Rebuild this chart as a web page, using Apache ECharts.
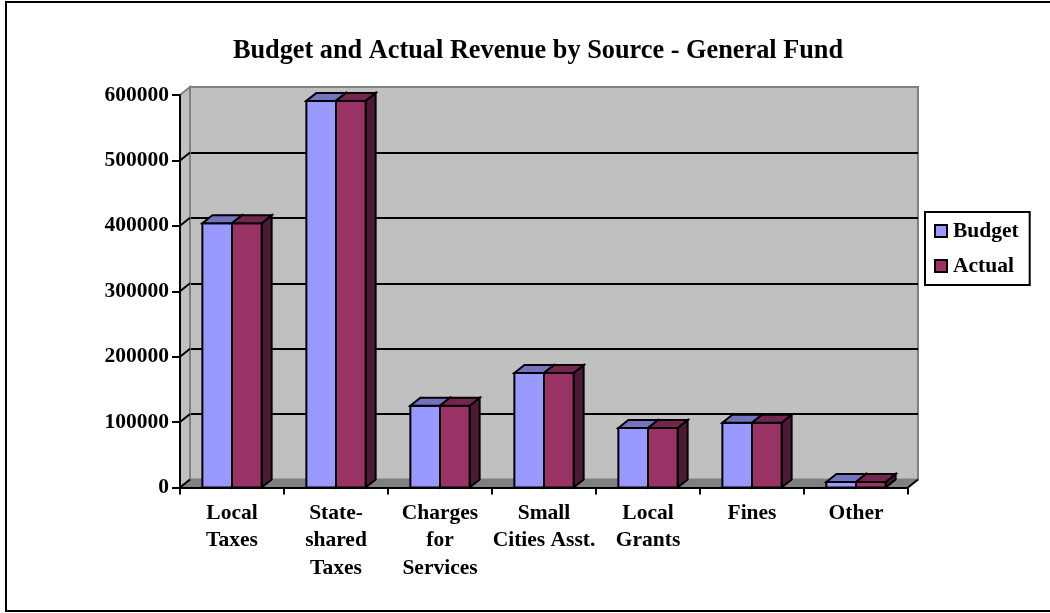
<!DOCTYPE html>
<html>
<head>
<meta charset="utf-8">
<script src="https://cdn.jsdelivr.net/npm/echarts@6/dist/echarts.min.js"></script>
<style>
html,body{margin:0;padding:0;background:#fff;}
#chart{width:1050px;height:613px;}
</style>
</head>
<body>
<div id="chart"></div>
<script>
const titleText = 'Budget and Actual Revenue by Source - General Fund';
const categories = ['Local\nTaxes', 'State-\nshared\nTaxes', 'Charges\nfor\nServices', 'Small\nCities Asst.', 'Local\nGrants', 'Fines', 'Other'];
const seriesNames = ['Budget', 'Actual'];
const budget = [404000, 591000, 125000, 175000, 91000, 99000, 8500];
const actual = [404000, 591000, 125000, 175000, 91000, 99000, 8500];
const yTicks = [0, 100000, 200000, 300000, 400000, 500000, 600000];

const FONT = '"Liberation Serif", "Times New Roman", serif';
const DX = 10, DY = -8;
const faceColors = {
  Budget: { front: '#9999FF', top: '#7373BF', side: '#4D4D80' },
  Actual: { front: '#993366', top: '#732650', side: '#4D1A33' }
};

const chart = echarts.init(document.getElementById('chart'), null, { renderer: 'canvas' });

function barRender(name, offsetSign) {
  return function (params, api) {
    const idx = api.value(0);
    const top = api.coord([idx, api.value(1)]);
    const base = api.coord([idx, 0]);
    const cw = api.size([1, 0])[0];
    const bw = cw * 0.285;
    const x0 = offsetSign < 0 ? top[0] - bw : top[0];
    const y1 = top[1], yb = base[1];
    const c = faceColors[name];
    const stroke = { stroke: '#000', lineWidth: 2, lineJoin: 'miter' };
    return {
      type: 'group',
      children: [
        { type: 'polygon', shape: { points: [[x0 + bw, y1], [x0 + bw + DX, y1 + DY], [x0 + bw + DX, yb + DY], [x0 + bw, yb]] }, style: Object.assign({ fill: c.side }, stroke) },
        { type: 'rect', shape: { x: x0, y: y1, width: bw, height: yb - y1 }, style: Object.assign({ fill: c.front }, stroke) },
        { type: 'polygon', shape: { points: [[x0, y1], [x0 + DX, y1 + DY], [x0 + bw + DX, y1 + DY], [x0 + bw, y1]] }, style: Object.assign({ fill: c.top }, stroke) }
      ]
    };
  };
}

function frameRender(params, api) {
  const cs = params.coordSys;
  const v = api.value(0);
  const p = api.coord([0, v]);
  const x0 = cs.x, x1 = cs.x + cs.width;
  const yTop = cs.y, yBot = cs.y + cs.height;
  const children = [];
  if (params.dataIndex === 0) {
    children.push({ type: 'polygon', shape: { points: [[x0, yTop], [x0 + DX, yTop + DY], [x0 + DX, yBot + DY], [x0, yBot]] }, style: { fill: '#C0C0C0', stroke: '#808080', lineWidth: 2 } });
    children.push({ type: 'polygon', shape: { points: [[x0, yBot], [x0 + DX, yBot + DY], [x1 + DX, yBot + DY], [x1, yBot]] }, style: { fill: '#808080', stroke: '#808080', lineWidth: 1 } });
    children.push({ type: 'line', shape: { x1: x1, y1: yBot, x2: x1 + DX, y2: yBot + DY }, style: { stroke: '#000', lineWidth: 2 } });
  }
  if (v < yTicks[yTicks.length - 1]) {
    children.push({ type: 'line', shape: { x1: x0, y1: p[1], x2: x0 + DX, y2: p[1] + DY }, style: { stroke: '#000', lineWidth: 2 } });
  }
  return { type: 'group', children: children };
}

const labelStyle = { fontFamily: FONT, fontWeight: 'bold', fontSize: 21.5, color: '#000' };

chart.setOption({
  backgroundColor: '#fff',
  animation: false,
  title: {
    text: titleText,
    left: 533,
    top: 33,
    textAlign: 'center',
    textStyle: { fontFamily: FONT, fontWeight: 'bold', fontSize: 26.3, color: '#000' }
  },
  legend: {
    orient: 'vertical',
    left: 925,
    top: 212,
    padding: [8, 11, 8, 9],
    backgroundColor: '#fff',
    borderColor: '#000',
    borderWidth: 2,
    borderRadius: 0,
    itemWidth: 12,
    itemHeight: 12,
    itemGap: 13,
    icon: 'rect',
    data: seriesNames,
    itemStyle: { borderColor: '#000', borderWidth: 2 },
    textStyle: { fontFamily: FONT, fontWeight: 'bold', fontSize: 21.5, color: '#000', lineHeight: 20, padding: [0, 0, 0, 1] }
  },
  graphic: [{
    type: 'rect', z: 100, silent: true,
    shape: { x: 6, y: 2, width: 1046, height: 609 },
    style: { fill: 'none', stroke: '#000', lineWidth: 2 }
  }],
  grid: [
    { left: 180, top: 95, width: 728, height: 392.5, show: false },
    { left: 190, top: 87, width: 728, height: 392.5, show: true, backgroundColor: '#C0C0C0', borderColor: '#808080', borderWidth: 2, z: 0 }
  ],
  xAxis: [
    {
      type: 'category', gridIndex: 0, data: categories, z: 5,
      axisLine: { show: true, lineStyle: { color: '#000', width: 2 } },
      axisTick: { show: true, length: 7, lineStyle: { color: '#000', width: 2 } },
      axisLabel: Object.assign({ interval: 0, margin: 12, lineHeight: 27.5, align: 'center' }, labelStyle),
      splitLine: { show: false }
    },
    { type: 'category', gridIndex: 1, data: categories, show: false }
  ],
  yAxis: [
    {
      type: 'value', gridIndex: 0, min: 0, max: 600000, interval: 100000, z: 5,
      axisLine: { show: true, lineStyle: { color: '#000', width: 2 } },
      axisTick: { show: true, length: 8, lineStyle: { color: '#000', width: 2 } },
      axisLabel: Object.assign({ margin: 11, formatter: function (v) { return String(v); } }, labelStyle),
      splitLine: { show: false }
    },
    {
      type: 'value', gridIndex: 1, min: 0, max: 600000, interval: 100000, z: 1,
      axisLine: { show: false }, axisTick: { show: false }, axisLabel: { show: false },
      splitLine: { show: true, showMinLine: false, showMaxLine: false, lineStyle: { color: '#000', width: 2 } }
    }
  ],
  series: [
    {
      type: 'custom', name: 'frame', xAxisIndex: 0, yAxisIndex: 0, z: 2, clip: false, silent: true,
      renderItem: frameRender,
      data: yTicks.map(v => [v])
    },
    {
      type: 'custom', name: 'Budget', xAxisIndex: 0, yAxisIndex: 0, z: 3, clip: false,
      itemStyle: { color: faceColors.Budget.front },
      renderItem: barRender('Budget', -1),
      encode: { x: 0, y: 1 },
      data: budget.map((v, i) => [i, v])
    },
    {
      type: 'custom', name: 'Actual', xAxisIndex: 0, yAxisIndex: 0, z: 4, clip: false,
      itemStyle: { color: faceColors.Actual.front },
      renderItem: barRender('Actual', 1),
      encode: { x: 0, y: 1 },
      data: actual.map((v, i) => [i, v])
    }
  ]
});
</script>
</body>
</html>
